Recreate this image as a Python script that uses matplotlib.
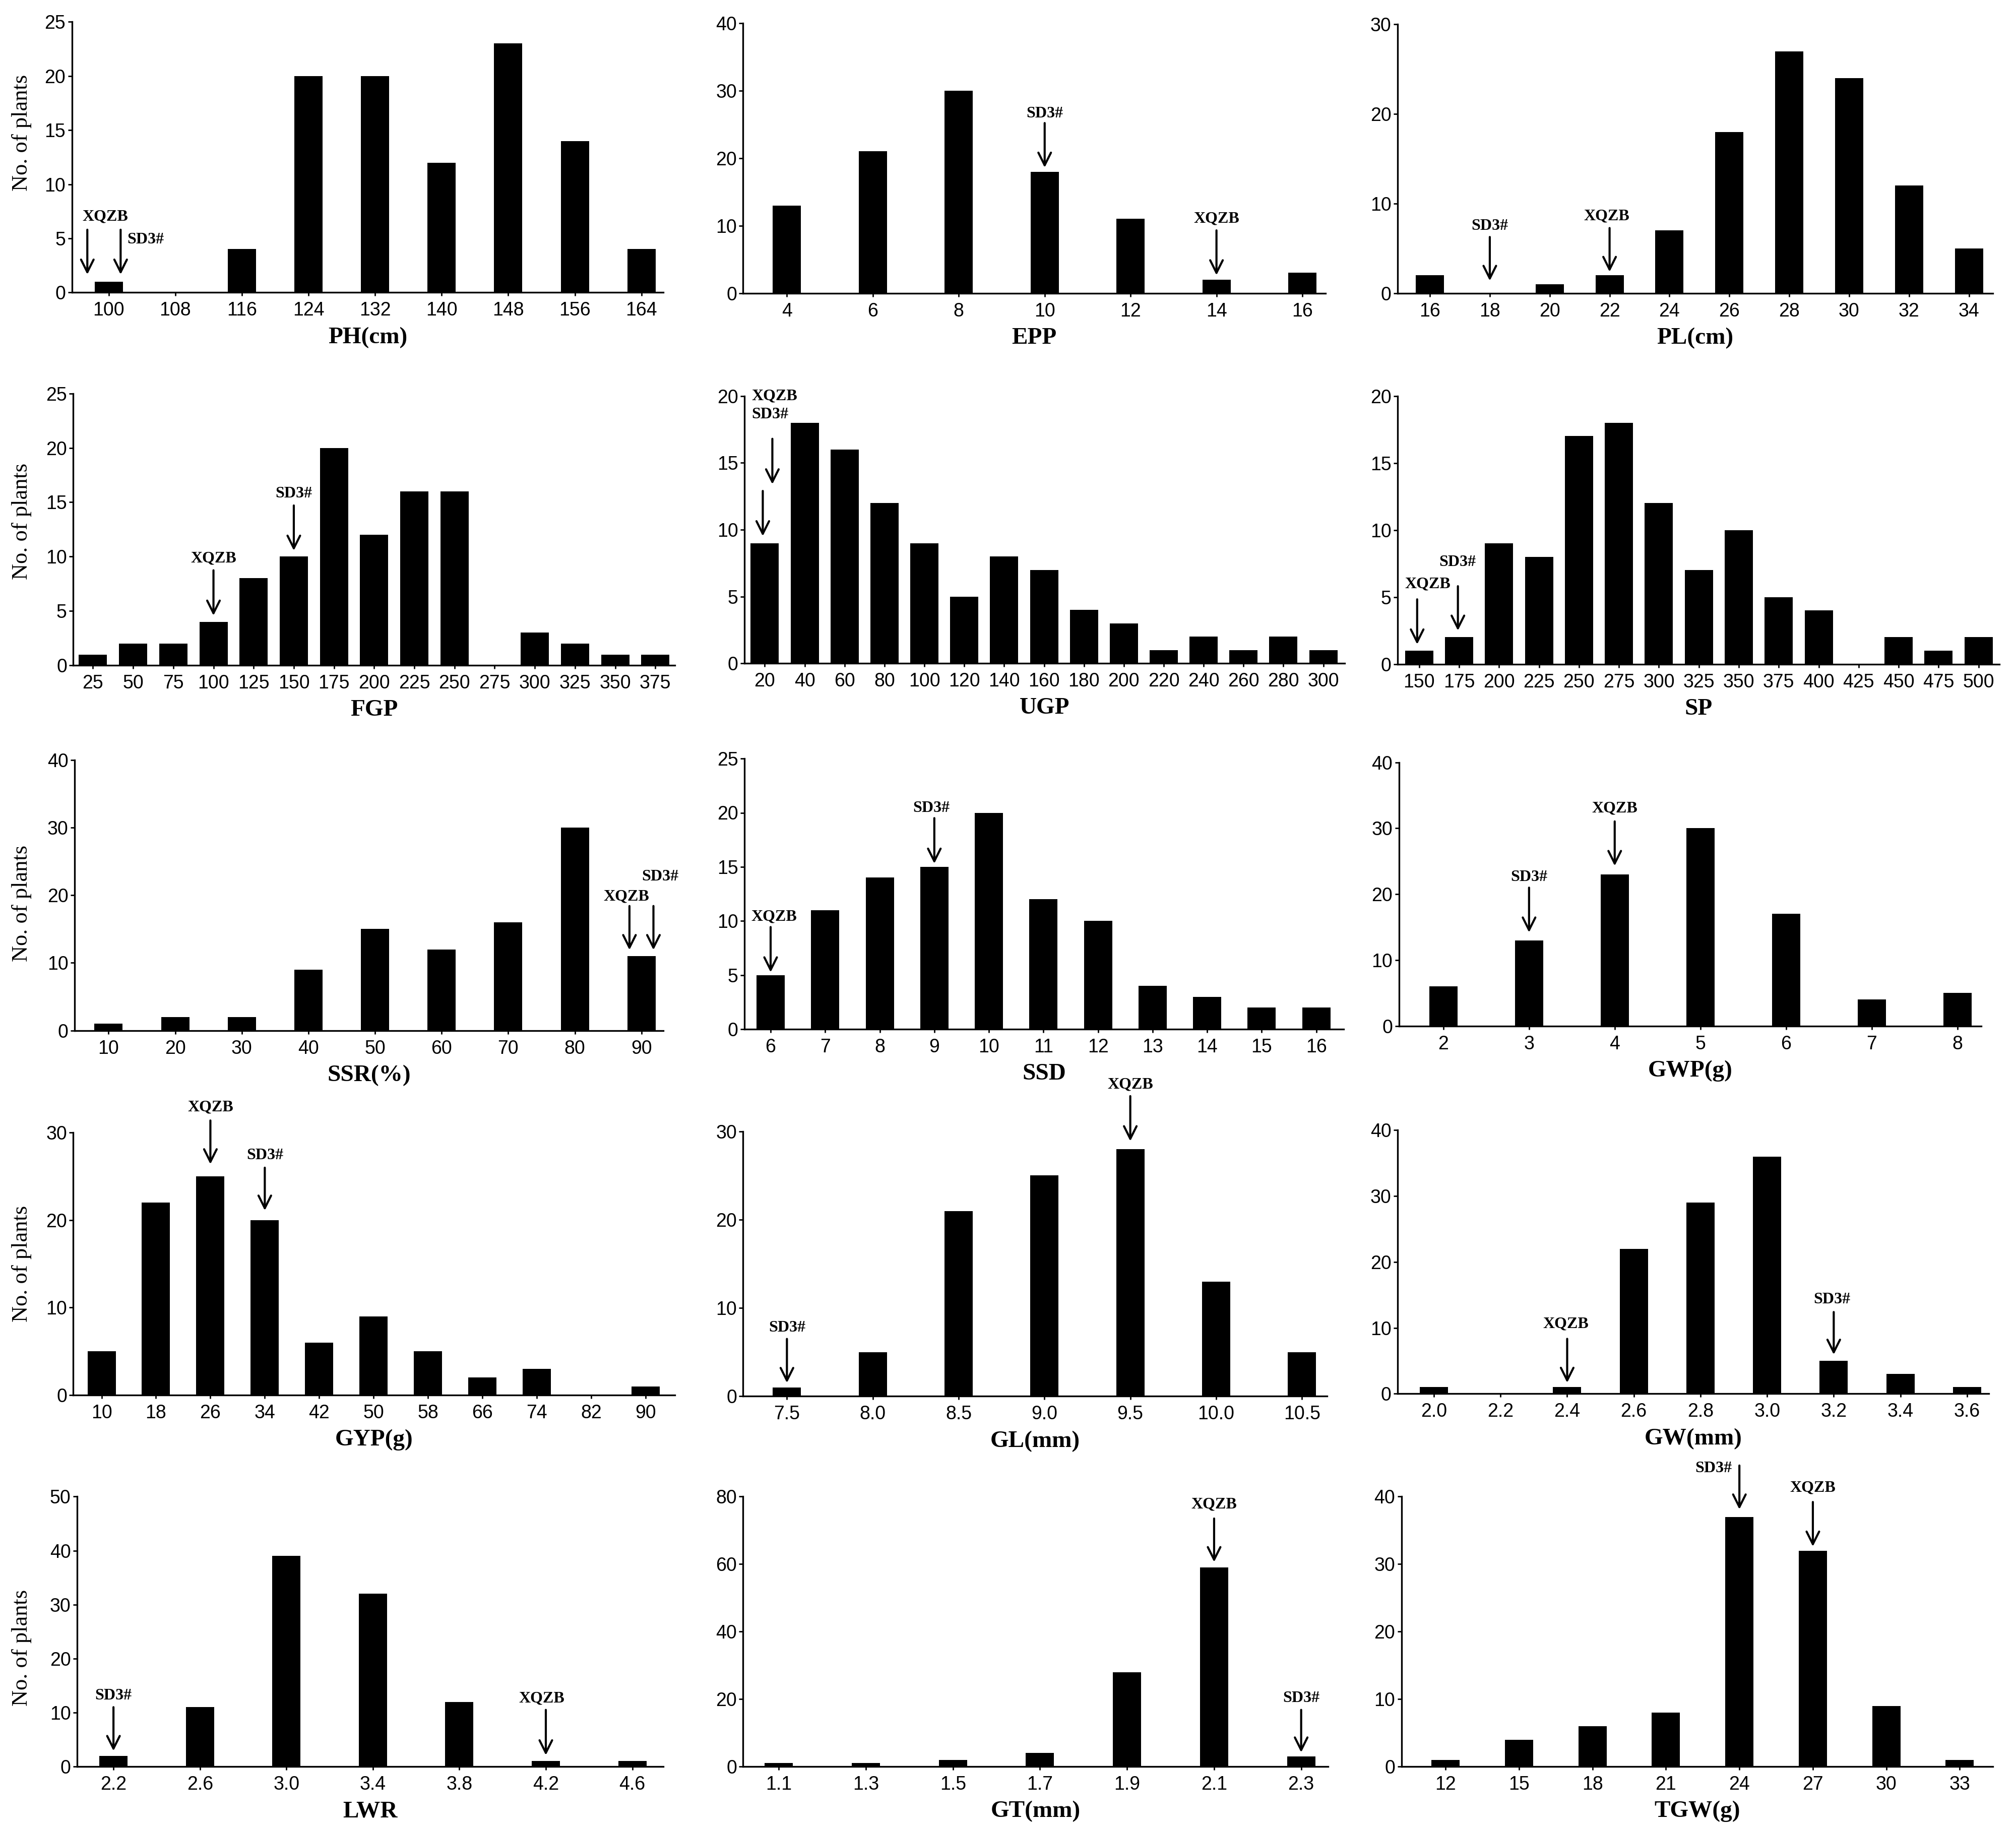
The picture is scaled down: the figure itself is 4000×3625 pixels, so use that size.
import numpy as np
import matplotlib
matplotlib.use("Agg")
from matplotlib import pyplot as plt
from matplotlib import transforms

plt.rcParams['font.family'] = ['Liberation Sans', 'DejaVu Sans']

# ---- data: bin labels and number of plants per bin ----
ph_bins = ["100", "108", "116", "124", "132", "140", "148", "156", "164"]
ph_counts = [1, 0, 4, 20, 20, 12, 23, 14, 4]

epp_bins = ["4", "6", "8", "10", "12", "14", "16"]
epp_counts = [13, 21, 30, 18, 11, 2, 3]

pl_bins = ["16", "18", "20", "22", "24", "26", "28", "30", "32", "34"]
pl_counts = [2, 0, 1, 2, 7, 18, 27, 24, 12, 5]

fgp_bins = ["25", "50", "75", "100", "125", "150", "175", "200", "225", "250",
            "275", "300", "325", "350", "375"]
fgp_counts = [1, 2, 2, 4, 8, 10, 20, 12, 16, 16, 0, 3, 2, 1, 1]

ugp_bins = ["20", "40", "60", "80", "100", "120", "140", "160", "180", "200",
            "220", "240", "260", "280", "300"]
ugp_counts = [9, 18, 16, 12, 9, 5, 8, 7, 4, 3, 1, 2, 1, 2, 1]

sp_bins = ["150", "175", "200", "225", "250", "275", "300", "325", "350", "375",
           "400", "425", "450", "475", "500"]
sp_counts = [1, 2, 9, 8, 17, 18, 12, 7, 10, 5, 4, 0, 2, 1, 2]

ssr_bins = ["10", "20", "30", "40", "50", "60", "70", "80", "90"]
ssr_counts = [1, 2, 2, 9, 15, 12, 16, 30, 11]

ssd_bins = ["6", "7", "8", "9", "10", "11", "12", "13", "14", "15", "16"]
ssd_counts = [5, 11, 14, 15, 20, 12, 10, 4, 3, 2, 2]

gwp_bins = ["2", "3", "4", "5", "6", "7", "8"]
gwp_counts = [6, 13, 23, 30, 17, 4, 5]

gyp_bins = ["10", "18", "26", "34", "42", "50", "58", "66", "74", "82", "90"]
gyp_counts = [5, 22, 25, 20, 6, 9, 5, 2, 3, 0, 1]

gl_bins = ["7.5", "8.0", "8.5", "9.0", "9.5", "10.0", "10.5"]
gl_counts = [1, 5, 21, 25, 28, 13, 5]

gw_bins = ["2.0", "2.2", "2.4", "2.6", "2.8", "3.0", "3.2", "3.4", "3.6"]
gw_counts = [1, 0, 1, 22, 29, 36, 5, 3, 1]

lwr_bins = ["2.2", "2.6", "3.0", "3.4", "3.8", "4.2", "4.6"]
lwr_counts = [2, 11, 39, 32, 12, 1, 1]

gt_bins = ["1.1", "1.3", "1.5", "1.7", "1.9", "2.1", "2.3"]
gt_counts = [1, 1, 2, 4, 28, 59, 3]

tgw_bins = ["12", "15", "18", "21", "24", "27", "30", "33"]
tgw_counts = [1, 4, 6, 8, 37, 32, 9, 1]

# ---- layout (reference pixel coords at 1568 x 1421) ----
SW, SH = 1568.0, 1421.0
BAR_PX = 56.0  # bar width in output pixels

# name, bins, counts, ymax, ystep, box (left, right, top, bottom), x margins, ylabel y
panels = [
    ("PH(cm)", ph_bins, ph_counts, 25, 5, (56, 516, 17, 227.5), (0.55, 0.33), 0.59),
    ("EPP", epp_bins, epp_counts, 40, 10, (578, 1031, 18, 228), (0.51, 0.27), None),
    ("PL(cm)", pl_bins, pl_counts, 30, 10, (1087, 1550, 19, 228), (0.54, 0.40), None),
    ("FGP", fgp_bins, fgp_counts, 25, 5, (57, 525, 306, 517.5), (0.49, 0.49), 0.53),
    ("UGP", ugp_bins, ugp_counts, 20, 5, (579, 1046, 308, 516), (0.51, 0.54), None),
    ("SP", sp_bins, sp_counts, 20, 5, (1087, 1555, 308, 516.5), (0.54, 0.52), None),
    ("SSR(%)", ssr_bins, ssr_counts, 40, 10, (58, 516, 591, 801.5), (0.51, 0.33), 0.47),
    ("SSD", ssd_bins, ssd_counts, 25, 5, (579, 1045, 590, 800.5), (0.48, 0.50), None),
    ("GWP(g)", gwp_bins, gwp_counts, 40, 10, (1088, 1541, 593, 798), (0.52, 0.28), None),
    ("GYP(g)", gyp_bins, gyp_counts, 30, 10, (57, 525, 881, 1085), (0.52, 0.54), 0.50),
    ("GL(mm)", gl_bins, gl_counts, 30, 10, (578, 1032, 880, 1086), (0.51, 0.29), None),
    ("GW(mm)", gw_bins, gw_counts, 40, 10, (1087, 1547, 879, 1084), (0.545, 0.33), None),
    ("LWR", lwr_bins, lwr_counts, 50, 10, (60, 516, 1164, 1374), (0.42, 0.36), 0.44),
    ("GT(mm)", gt_bins, gt_counts, 80, 20, (578, 1033, 1164, 1374), (0.41, 0.31), None),
    ("TGW(g)", tgw_bins, tgw_counts, 40, 10, (1090, 1550, 1164, 1374), (0.60, 0.45), None),
]

# arrows: label, bin, dx, tip y, tail y, text dx, text y, text ha
marks = {
    "PH(cm)": [("XQZB", "100", -0.32, 1.66, 5.8, -0.05, 7.0, "center"),
               ("SD3#", "100", 0.18, 1.66, 5.8, 0.28, 4.9, "left")],
    "EPP": [("SD3#", "10", 0, 18.6, 25.2, 0, 26.6, "center"),
            ("XQZB", "14", 0, 2.66, 9.3, 0, 11.0, "center")],
    "PL(cm)": [("SD3#", "18", 0, 1.38, 6.27, 0, 7.5, "center"),
               ("XQZB", "22", 0, 2.38, 7.27, -0.05, 8.6, "center")],
    "FGP": [("XQZB", "100", 0, 4.58, 8.74, 0, 9.85, "center"),
            ("SD3#", "150", 0, 10.55, 14.7, 0, 15.8, "center")],
    "UGP": [("XQZB", "20", -0.05, 9.52, 12.9, -0.33, 20.0, "left"),
            ("SD3#", "20", 0.19, 13.4, 16.8, -0.33, 18.6, "left")],
    "SP": [("XQZB", "150", -0.05, 1.47, 4.83, 0.22, 5.95, "center"),
           ("SD3#", "175", -0.03, 2.5, 5.81, -0.04, 7.59, "center")],
    "SSR(%)": [("XQZB", "90", -0.18, 11.9, 18.4, -0.23, 19.8, "center"),
               ("SD3#", "90", 0.18, 11.9, 18.4, 0.28, 22.7, "center")],
    "SSD": [("XQZB", "6", 0, 5.26, 9.44, 0.06, 10.4, "center"),
            ("SD3#", "9", 0, 15.3, 19.5, -0.06, 20.4, "center")],
    "GWP(g)": [("SD3#", "3", 0, 14.2, 21.0, 0, 22.6, "center"),
               ("XQZB", "4", 0, 24.3, 31.05, 0, 33.0, "center")],
    "GYP(g)": [("XQZB", "26", 0, 26.4, 31.4, 0, 32.9, "center"),
               ("SD3#", "34", 0, 21.1, 26.0, 0, 27.4, "center")],
    "GL(mm)": [("SD3#", "7.5", 0, 1.52, 6.5, 0, 7.74, "center"),
               ("XQZB", "9.5", 0, 28.9, 34.0, 0, 35.3, "center")],
    "GW(mm)": [("XQZB", "2.4", 0, 1.67, 8.33, -0.02, 10.6, "center"),
               ("SD3#", "3.2", 0, 5.93, 12.4, -0.03, 14.3, "center")],
    "LWR": [("SD3#", "2.2", 0, 2.9, 11.0, 0, 13.1, "center"),
            ("XQZB", "4.2", 0, 2.1, 10.5, -0.05, 12.6, "center")],
    "GT(mm)": [("XQZB", "2.1", 0, 60.6, 73.5, 0, 77.7, "center"),
               ("SD3#", "2.3", 0, 4.2, 16.8, 0, 20.2, "center")],
    "TGW(g)": [("SD3#", "24", 0, 38.1, 44.6, -0.1, 44.2, "right"),
               ("XQZB", "27", 0, 32.6, 39.2, 0, 41.3, "center")],
}

fig = plt.figure(figsize=(40, 36.25), dpi=100)

for name, bins, counts, ymax, ystep, box, margin, ylab_y in panels:
    l, r, t, b = box
    ax = fig.add_axes([l / SW, 1 - b / SH, (r - l) / SW, (b - t) / SH])
    n = len(bins)
    x = np.arange(n)
    xmin, xmax = -margin[0], n - 1 + margin[1]
    ax.set_xlim(xmin, xmax)
    ax.set_ylim(0, ymax)
    px_per_unit = (r - l) * 4000 / SW / (xmax - xmin)
    ax.bar(x, counts, width=BAR_PX / px_per_unit, color='black', linewidth=0)

    ax.set_xticks(x)
    ax.set_xticklabels(bins)
    ax.set_yticks(np.arange(0, ymax + 1, ystep))
    for s in ['top', 'right']:
        ax.spines[s].set_visible(False)
    for s in ['left', 'bottom']:
        ax.spines[s].set_linewidth(2.4)
    ax.tick_params(axis='x', length=5, width=2, pad=8, labelsize=27)
    ax.tick_params(axis='y', length=6, width=2, pad=3, labelsize=27)

    ax.set_xlabel(name, fontsize=34, fontweight='bold', family='Liberation Serif',
                  labelpad=10)
    if ylab_y is not None:
        ax.set_ylabel('No. of plants', fontsize=32, family='Liberation Serif')
        ax.yaxis.label.set_verticalalignment('center')
        ax.yaxis.set_label_coords(
            17 / SW, ylab_y,
            transform=transforms.blended_transform_factory(fig.transFigure, ax.transAxes))

    for label, bin_name, dx, tip, tail, tdx, ty, ha in marks[name]:
        xa = bins.index(bin_name) + dx
        ax.annotate('', xy=(xa, tip), xytext=(xa, tail), annotation_clip=False,
                    arrowprops=dict(arrowstyle='->,head_length=0.9,head_width=0.45',
                                    lw=3, color='black', shrinkA=0, shrinkB=0,
                                    mutation_scale=20))
        ax.text(bins.index(bin_name) + tdx, ty, label, ha=ha, va='center',
                fontsize=23, fontweight='bold', family='Liberation Serif',
                clip_on=False)

fig.savefig('out.png', dpi=100, facecolor='white')
